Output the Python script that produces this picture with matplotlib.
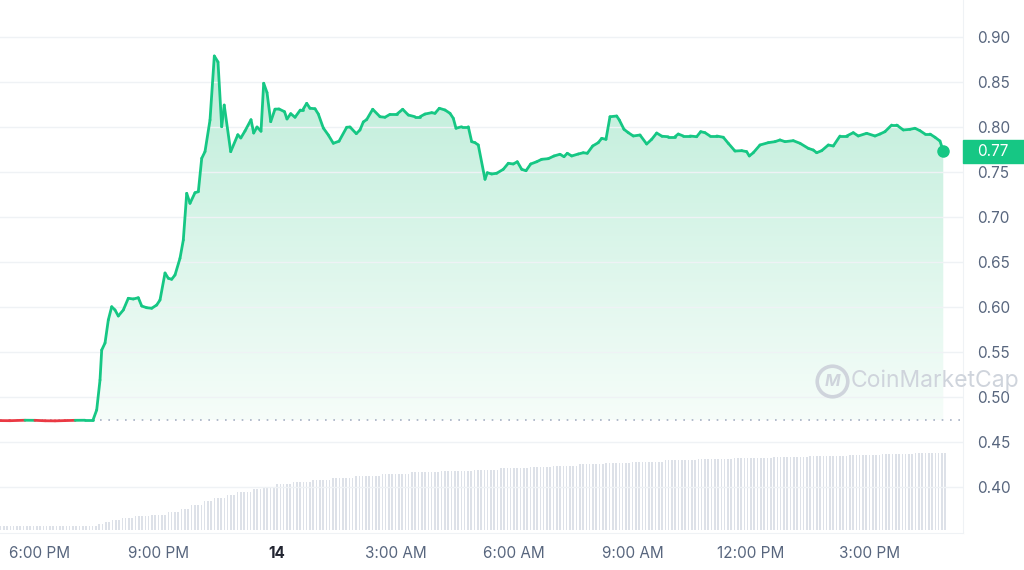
import numpy as np
import matplotlib
matplotlib.use('Agg')
import matplotlib.pyplot as plt
from matplotlib.collections import LineCollection
from matplotlib.colors import LinearSegmentedColormap
from matplotlib.patches import Rectangle
from matplotlib.lines import Line2D
import matplotlib.transforms as mtransforms

plt.rcParams['font.family'] = ['Inter', 'DejaVu Sans']

# price, hours relative to midnight of the 14th
hours = [-7.01, -6.76, -6.38, -6.13, -5.87, -5.62, -5.37, -5.11, -4.86, -4.66,
         -4.565, -4.481, -4.438, -4.354, -4.271, -4.185, -4.101, -4.018, -3.891, -3.765,
         -3.638, -3.511, -3.425, -3.299, -3.172, -3.046, -2.962, -2.835, -2.752, -2.666,
         -2.582, -2.456, -2.372, -2.286, -2.203, -2.076, -1.992, -1.906, -1.823, -1.696,
         -1.587, -1.494, -1.400, -1.337, -1.172, -0.992, -0.916, -0.810, -0.658, -0.590,
         -0.506, -0.405, -0.337, -0.253, -0.159, -0.051, 0.051, 0.190, 0.253, 0.347,
         0.456, 0.590, 0.651, 0.752, 0.835, 0.962, 1.046, 1.172, 1.299, 1.425,
         1.570, 1.765, 1.848, 2.008, 2.101, 2.185, 2.271, 2.423, 2.608, 2.734,
         2.861, 3.030, 3.182, 3.324, 3.494, 3.620, 3.747, 3.916, 4.000, 4.109,
         4.253, 4.380, 4.463, 4.532, 4.676, 4.843, 4.929, 5.013, 5.096, 5.266,
         5.324, 5.435, 5.562, 5.729, 5.856, 5.982, 6.084, 6.195, 6.304, 6.423,
         6.575, 6.701, 6.868, 7.013, 7.165, 7.266, 7.349, 7.461, 7.628, 7.754,
         7.856, 7.992, 8.134, 8.220, 8.329, 8.430, 8.600, 8.666, 8.785, 8.894,
         9.020, 9.190, 9.359, 9.486, 9.613, 9.747, 9.906, 10.076, 10.159, 10.286,
         10.456, 10.625, 10.727, 10.835, 10.962, 11.132, 11.299, 11.425, 11.595, 11.765,
         11.891, 11.957, 12.058, 12.228, 12.438, 12.608, 12.734, 12.861, 13.071, 13.241,
         13.451, 13.577, 13.663, 13.790, 13.957, 14.084, 14.253, 14.423, 14.590, 14.716,
         14.929, 15.139, 15.266, 15.392, 15.562, 15.689, 15.856, 16.025, 16.152, 16.278,
         16.405, 16.532, 16.658, 16.785, 16.868]
price = [0.4738, 0.4737, 0.4742, 0.4741, 0.4736, 0.4735, 0.4738, 0.4741, 0.4742, 0.4742,
         0.4856, 0.5189, 0.5522, 0.5600, 0.5856, 0.6003, 0.5967, 0.5900, 0.5967, 0.6097,
         0.6089, 0.6103, 0.6011, 0.5992, 0.5986, 0.6022, 0.6078, 0.6378, 0.6319, 0.6308,
         0.6356, 0.6541, 0.6744, 0.7263, 0.7152, 0.7270, 0.7281, 0.7652, 0.7726, 0.8078,
         0.8789, 0.8722, 0.8003, 0.8244, 0.7726, 0.7914, 0.7878, 0.7956, 0.8081, 0.7933,
         0.8000, 0.7953, 0.8486, 0.8383, 0.8059, 0.8198, 0.8200, 0.8170, 0.8089, 0.8148,
         0.8108, 0.8189, 0.8189, 0.8263, 0.8208, 0.8203, 0.8144, 0.7989, 0.7911, 0.7819,
         0.7842, 0.7997, 0.8000, 0.7926, 0.7967, 0.8056, 0.8083, 0.8197, 0.8114, 0.8108,
         0.8141, 0.8141, 0.8197, 0.8133, 0.8114, 0.8114, 0.8144, 0.8159, 0.8152, 0.8208,
         0.8189, 0.8152, 0.8097, 0.7986, 0.8003, 0.8003, 0.7837, 0.7826, 0.7800, 0.7419,
         0.7492, 0.7478, 0.7486, 0.7530, 0.7597, 0.7589, 0.7614, 0.7530, 0.7514, 0.7589,
         0.7614, 0.7641, 0.7648, 0.7678, 0.7697, 0.7670, 0.7708, 0.7678, 0.7700, 0.7714,
         0.7708, 0.7789, 0.7826, 0.7874, 0.7863, 0.8114, 0.8122, 0.8078, 0.7974, 0.7937,
         0.7900, 0.7911, 0.7811, 0.7863, 0.7933, 0.7897, 0.7892, 0.7892, 0.7922, 0.7900,
         0.7900, 0.7892, 0.7948, 0.7937, 0.7900, 0.7900, 0.7886, 0.7819, 0.7733, 0.7737,
         0.7726, 0.7678, 0.7714, 0.7800, 0.7826, 0.7837, 0.7856, 0.7837, 0.7848, 0.7819,
         0.7763, 0.7744, 0.7714, 0.7737, 0.7800, 0.7789, 0.7900, 0.7900, 0.7937, 0.7900,
         0.7930, 0.7900, 0.7922, 0.7948, 0.8022, 0.8022, 0.7967, 0.7974, 0.7986, 0.7959,
         0.7922, 0.7922, 0.7886, 0.7844, 0.7733]
open_price = 0.4740

# 24h volume bars, 5 minute steps from 17:00 (run lengths, 288 bars)
vol_start = -7.0
vol_levels = [1.0, 1.5, 2.0, 2.5, 3.0, 3.5, 3.8, 4.5, 5.3, 6.25,
              7.2, 8.0, 8.8, 9.5, 10.2, 10.75, 11.4, 12.0, 12.5, 13.0,
              13.5, 14.0, 14.4, 14.75, 15.1, 15.5, 15.8, 16.1, 16.4, 16.75,
              17.1, 17.4, 17.7, 18.0, 18.3, 18.5, 18.8, 19.0, 19.25]
vol_counts = [30, 2, 2, 3, 4, 5, 5, 4, 3, 4,
              3, 4, 3, 5, 3, 4, 5, 6, 6, 7,
              8, 9, 9, 10, 8, 9, 7, 8, 8, 8,
              10, 10, 11, 12, 11, 12, 10, 10, 10]

xtick_pos = [-6, -3, 0, 3, 6, 9, 12, 15]
xtick_labels = ['6:00 PM', '9:00 PM', '14', '3:00 AM', '6:00 AM', '9:00 AM', '12:00 PM', '3:00 PM']
ytick_pos = [0.40, 0.45, 0.50, 0.55, 0.60, 0.65, 0.70, 0.75, 0.80, 0.85, 0.90]

green = '#16c784'
red = '#ea3943'
gray_txt = '#58667e'

hours = np.array(hours)
price = np.array(price)

fig = plt.figure(figsize=(10.24, 5.70), dpi=100)
ax = fig.add_axes([0, 0.0649, 0.9404, 0.9351])

# volume on its own scale
axv = ax.twinx()
vol = np.repeat(vol_levels, vol_counts)
vt = vol_start + np.arange(len(vol)) / 12.0
axv.bar(vt, vol, width=0.04, color='#dde1e8', align='center', linewidth=0)
axv.set_ylim(-0.75, 132.5)
axv.axis('off')
ax.set_zorder(axv.get_zorder() + 1)
ax.patch.set_visible(False)

ax.yaxis.tick_right()
ax.set_yticks(ytick_pos)
ax.set_yticklabels(['%.2f' % v for v in ytick_pos])
ax.set_xticks(xtick_pos)
ax.set_xticklabels(xtick_labels)
ax.tick_params(axis='y', length=0, pad=10, labelsize=11, labelcolor=gray_txt)
ax.tick_params(axis='x', length=0, pad=9, labelsize=11, labelcolor=gray_txt)
lbl = ax.get_xticklabels()[2]
lbl.set_fontweight('bold')
lbl.set_color('#222531')
ax.grid(axis='y', color='#eff2f5', lw=1)
for s in ['top', 'left']:
    ax.spines[s].set_visible(False)
ax.spines['right'].set_color('#eff2f5')
ax.spines['bottom'].set_color('#eff2f5')

# gradient fill under the price
fill = ax.fill_between(hours, price, open_price, facecolor='none', edgecolor='none')
cmap = LinearSegmentedColormap.from_list('g', [(0.965, 0.992, 0.978), (0.74, 0.93, 0.85)])
grad = np.linspace(0, 1, 256).reshape(-1, 1)
img = ax.imshow(grad, cmap=cmap, aspect='auto', origin='lower',
                extent=[hours[0], hours[-1], open_price, 0.88], zorder=1)
img.set_clip_path(fill.get_paths()[0], transform=ax.transData)
ax.set_xlim(-7.013, 17.367)
ax.set_ylim(0.3489, 0.9411)

# open price dotted line
ax.axhline(open_price, color='#a6b0c3', lw=1.2, linestyle=(0, (1, 4)), zorder=2)

# price line, red below open, green above
pts = np.column_stack([hours, price]).reshape(-1, 1, 2)
segs = np.concatenate([pts[:-1], pts[1:]], axis=1)
mid = (price[:-1] + price[1:]) / 2
cols = [green if m >= open_price else red for m in mid]
lc = LineCollection(segs, colors=cols, linewidths=2.0, capstyle='round', joinstyle='round', zorder=3)
ax.add_collection(lc)
ax.plot(hours[-1], price[-1], 'o', color=green, ms=8, zorder=4)

# last price badge
trans = mtransforms.blended_transform_factory(ax.transAxes, ax.transData)
ax.add_patch(Rectangle((1.0, price[-1] - 0.0128), 62 / 963, 0.0256, transform=trans,
                       color=green, clip_on=False, zorder=5))
ax.text(1.0 + 14 / 963, price[-1], '%.2f' % price[-1], transform=trans, color='white',
        fontsize=11, va='center', ha='left', zorder=6)

# watermark
wm = '#cfd4dc'
fig.add_artist(Line2D([832 / 1024], [1 - 381 / 570], marker='o', ms=22, mfc='none', mec=wm,
                      mew=2.6, transform=fig.transFigure))
fig.text(832 / 1024, 1 - 382 / 570, 'M', color=wm, fontsize=12, fontweight='bold',
         ha='center', va='center', style='italic')
fig.text(851 / 1024, 1 - 381 / 570, 'CoinMarketCap', color=wm, fontsize=16.5,
         ha='left', va='center')

fig.savefig('out.png', dpi=100)
